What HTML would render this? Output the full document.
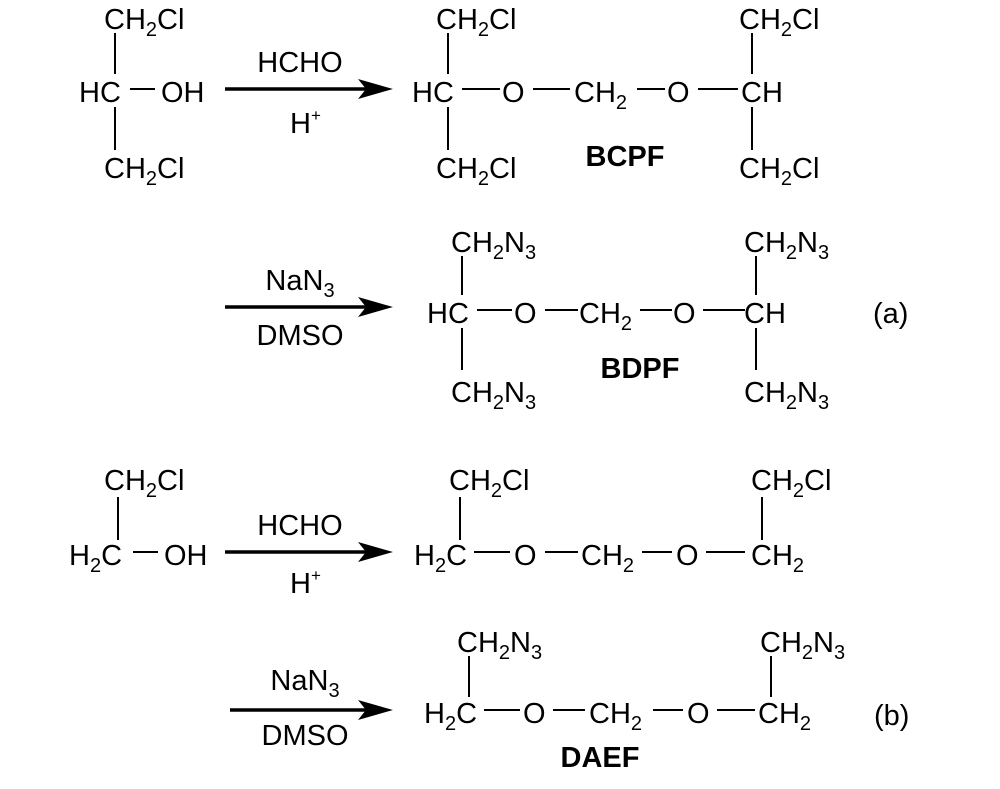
<!DOCTYPE html>
<html><head><meta charset="utf-8"><style>
html,body{margin:0;padding:0;background:#fff;}
svg text{font-family:"Liberation Sans",Arial,sans-serif;font-size:29px;fill:#000;}
.b{font-weight:bold;}
</style></head><body>
<svg width="1000" height="784" viewBox="0 0 1000 784" xmlns="http://www.w3.org/2000/svg">
<g stroke="#000" stroke-width="2" fill="none">
<line x1="115" y1="33" x2="115" y2="74"/><line x1="115" y1="107" x2="115" y2="150"/>
<line x1="130" y1="89" x2="155" y2="89"/>
<line x1="448" y1="33" x2="448" y2="74"/><line x1="448" y1="107" x2="448" y2="150"/>
<line x1="462" y1="89" x2="500" y2="89"/><line x1="533" y1="89" x2="570" y2="89"/>
<line x1="637" y1="89" x2="665" y2="89"/><line x1="698" y1="89" x2="738" y2="89"/>
<line x1="752" y1="33" x2="752" y2="74"/><line x1="752" y1="107" x2="752" y2="150"/>
<line x1="462" y1="256" x2="462" y2="295"/><line x1="462" y1="328" x2="462" y2="370"/>
<line x1="477" y1="310" x2="512" y2="310"/><line x1="545" y1="310" x2="578" y2="310"/>
<line x1="640" y1="310" x2="672" y2="310"/><line x1="703" y1="310" x2="745" y2="310"/>
<line x1="756" y1="256" x2="756" y2="295"/><line x1="756" y1="328" x2="756" y2="370"/>
<line x1="118" y1="497" x2="118" y2="540"/><line x1="133" y1="552" x2="158" y2="552"/>
<line x1="460" y1="497" x2="460" y2="540"/>
<line x1="474" y1="552" x2="510" y2="552"/><line x1="545" y1="552" x2="578" y2="552"/>
<line x1="642" y1="552" x2="672" y2="552"/><line x1="706" y1="552" x2="745" y2="552"/>
<line x1="762" y1="497" x2="762" y2="540"/>
<line x1="469" y1="656" x2="469" y2="697"/>
<line x1="484" y1="710" x2="520" y2="710"/><line x1="553" y1="710" x2="585" y2="710"/>
<line x1="653" y1="710" x2="683" y2="710"/><line x1="717" y1="710" x2="755" y2="710"/>
<line x1="771" y1="656" x2="771" y2="697"/>
</g>
<g stroke="#000" stroke-width="3.5">
<line x1="225" y1="89" x2="368" y2="89"/>
<line x1="225" y1="307" x2="368" y2="307"/>
<line x1="225" y1="552" x2="368" y2="552"/>
<line x1="230" y1="710" x2="368" y2="710"/>
</g>
<g fill="#000">
<polygon points="393,89 358,79 366,89 358,99"/>
<polygon points="393,307 358,297 366,307 358,317"/>
<polygon points="393,552 358,542 366,552 358,562"/>
<polygon points="393,710 358,700 366,710 358,720"/>
</g>
<text x="104" y="29">CH<tspan font-size="20" dy="7">2</tspan><tspan dy="-7">Cl</tspan></text>
<text x="79" y="102">HC</text><text x="161" y="102">OH</text>
<text x="104" y="178">CH<tspan font-size="20" dy="7">2</tspan><tspan dy="-7">Cl</tspan></text>
<text x="300" y="72" text-anchor="middle">HCHO</text>
<text x="290" y="133">H<tspan font-size="17" dy="-12">+</tspan></text>
<text x="436" y="29">CH<tspan font-size="20" dy="7">2</tspan><tspan dy="-7">Cl</tspan></text>
<text x="412" y="102">HC</text><text x="502" y="102">O</text>
<text x="574" y="102">CH<tspan font-size="20" dy="7">2</tspan></text>
<text x="667" y="102">O</text><text x="741" y="102">CH</text>
<text x="436" y="178">CH<tspan font-size="20" dy="7">2</tspan><tspan dy="-7">Cl</tspan></text>
<text x="739" y="29">CH<tspan font-size="20" dy="7">2</tspan><tspan dy="-7">Cl</tspan></text>
<text x="739" y="178">CH<tspan font-size="20" dy="7">2</tspan><tspan dy="-7">Cl</tspan></text>
<text x="625" y="166" text-anchor="middle" class="b">BCPF</text>
<text x="300" y="290" text-anchor="middle">NaN<tspan font-size="20" dy="7">3</tspan></text>
<text x="300" y="345" text-anchor="middle">DMSO</text>
<text x="451" y="252">CH<tspan font-size="20" dy="7">2</tspan><tspan dy="-7">N</tspan><tspan font-size="20" dy="7">3</tspan></text>
<text x="427" y="323">HC</text><text x="514" y="323">O</text>
<text x="579" y="323">CH<tspan font-size="20" dy="7">2</tspan></text>
<text x="673" y="323">O</text><text x="744" y="323">CH</text>
<text x="451" y="402">CH<tspan font-size="20" dy="7">2</tspan><tspan dy="-7">N</tspan><tspan font-size="20" dy="7">3</tspan></text>
<text x="744" y="252">CH<tspan font-size="20" dy="7">2</tspan><tspan dy="-7">N</tspan><tspan font-size="20" dy="7">3</tspan></text>
<text x="744" y="402">CH<tspan font-size="20" dy="7">2</tspan><tspan dy="-7">N</tspan><tspan font-size="20" dy="7">3</tspan></text>
<text x="640" y="378" text-anchor="middle" class="b">BDPF</text>
<text x="873" y="323">(a)</text>
<text x="104" y="490">CH<tspan font-size="20" dy="7">2</tspan><tspan dy="-7">Cl</tspan></text>
<text x="69" y="565">H<tspan font-size="20" dy="7">2</tspan><tspan dy="-7">C</tspan></text>
<text x="164" y="565">OH</text>
<text x="300" y="535" text-anchor="middle">HCHO</text>
<text x="290" y="593">H<tspan font-size="17" dy="-12">+</tspan></text>
<text x="449" y="490">CH<tspan font-size="20" dy="7">2</tspan><tspan dy="-7">Cl</tspan></text>
<text x="414" y="565">H<tspan font-size="20" dy="7">2</tspan><tspan dy="-7">C</tspan></text>
<text x="514" y="565">O</text>
<text x="581" y="565">CH<tspan font-size="20" dy="7">2</tspan></text>
<text x="676" y="565">O</text>
<text x="751" y="565">CH<tspan font-size="20" dy="7">2</tspan></text>
<text x="751" y="490">CH<tspan font-size="20" dy="7">2</tspan><tspan dy="-7">Cl</tspan></text>
<text x="305" y="690" text-anchor="middle">NaN<tspan font-size="20" dy="7">3</tspan></text>
<text x="305" y="745" text-anchor="middle">DMSO</text>
<text x="457" y="652">CH<tspan font-size="20" dy="7">2</tspan><tspan dy="-7">N</tspan><tspan font-size="20" dy="7">3</tspan></text>
<text x="424" y="723">H<tspan font-size="20" dy="7">2</tspan><tspan dy="-7">C</tspan></text>
<text x="523" y="723">O</text>
<text x="589" y="723">CH<tspan font-size="20" dy="7">2</tspan></text>
<text x="687" y="723">O</text>
<text x="758" y="723">CH<tspan font-size="20" dy="7">2</tspan></text>
<text x="760" y="652">CH<tspan font-size="20" dy="7">2</tspan><tspan dy="-7">N</tspan><tspan font-size="20" dy="7">3</tspan></text>
<text x="600" y="767" text-anchor="middle" class="b">DAEF</text>
<text x="874" y="725">(b)</text>
</svg>
</body></html>
